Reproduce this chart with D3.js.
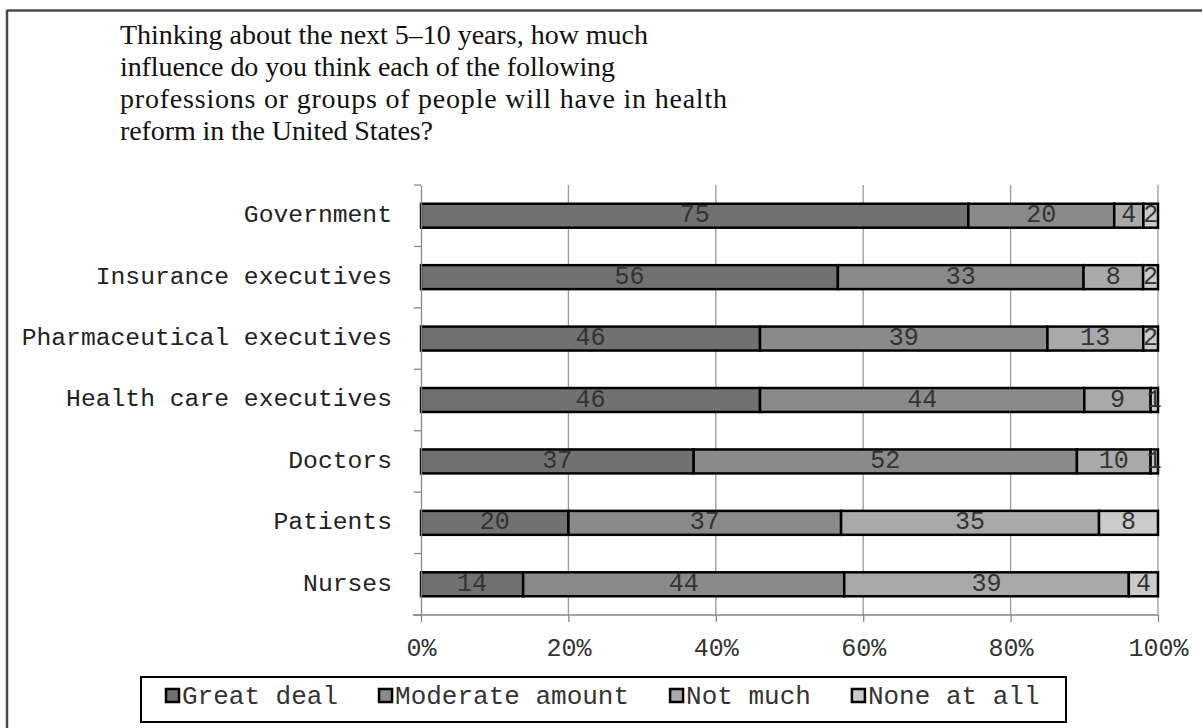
<!DOCTYPE html>
<html>
<head>
<meta charset="utf-8">
<script src="https://cdn.jsdelivr.net/npm/d3@7/dist/d3.min.js"></script>
<style>
  html, body { margin: 0; padding: 0; background: #fff; }
  svg { display: block; }
</style>
</head>
<body>
<svg id="chart" width="1202" height="728"></svg>
<script>
const titleLines = [
  "Thinking about the next 5\u201310 years, how much",
  "influence do you think each of the following",
  "professions or groups of people will have in health",
  "reform in the United States?"
];
const categories = ["Government", "Insurance executives", "Pharmaceutical executives",
  "Health care executives", "Doctors", "Patients", "Nurses"];
const seriesNames = ["Great deal", "Moderate amount", "Not much", "None at all"];
const greatDeal = [75, 56, 46, 46, 37, 20, 14];
const moderateAmount = [20, 33, 39, 44, 52, 37, 44];
const notMuch = [4, 8, 13, 9, 10, 35, 39];
const noneAtAll = [2, 2, 2, 1, 1, 8, 4];
const tickValues = [0, 0.2, 0.4, 0.6, 0.8, 1.0];
const tickLabels = ["0%", "20%", "40%", "60%", "80%", "100%"];
const colors = ["#717171", "#8a8a8a", "#a9a9a9", "#cbcbcb"];

// layout: rendered widths of the title lines in the original typeface
const titleLineWidths = [528, 495, 607, 313];

const seriesValues = [greatDeal, moderateAmount, notMuch, noneAtAll];
const svg = d3.select("#chart");
const mono = "'Liberation Mono', 'Courier New', monospace";
const textColor = "#333";

// frame
svg.append("line").attr("x1", 7).attr("x2", 1202).attr("y1", 10.5).attr("y2", 10.5)
  .attr("stroke", "#4a4a4a").attr("stroke-width", 2.5);
svg.append("line").attr("x1", 7).attr("x2", 7).attr("y1", 10).attr("y2", 728)
  .attr("stroke", "#4a4a4a").attr("stroke-width", 2.5);

// title
svg.append("g").selectAll("text").data(titleLines).join("text")
  .attr("x", 120).attr("y", (d, i) => 44 + i * 32)
  .attr("font-family", "'Liberation Serif', 'Times New Roman', serif")
  .attr("font-size", 28).attr("fill", "#111")
  .attr("textLength", (d, i) => titleLineWidths[i])
  .attr("lengthAdjust", "spacing")
  .text(d => d);

// scales
const x = d3.scaleLinear().domain([0, 1]).range([421, 1158]);
const y = d3.scaleBand().domain(categories).range([185, 615]).padding(0);

// gridlines
svg.append("g").selectAll("line").data(tickValues.slice(1)).join("line")
  .attr("x1", d => x(d)).attr("x2", d => x(d)).attr("y1", 185).attr("y2", 615)
  .attr("stroke", "#9a9a9a").attr("stroke-width", 1.3);

// stacked data (100% normalized)
const rows = categories.map((c, i) => {
  const vals = seriesValues.map(s => s[i]);
  const total = d3.sum(vals);
  let acc = 0;
  return vals.map((v, k) => {
    const seg = { cat: c, k, v, x0: acc / total, x1: (acc + v) / total };
    acc += v;
    return seg;
  });
});
const segs = rows.flat();
const barH = y.bandwidth() * 0.39;
const barOff = (y.bandwidth() - barH) / 2;

svg.append("g").selectAll("rect").data(segs).join("rect")
  .attr("x", d => x(d.x0)).attr("width", d => x(d.x1) - x(d.x0))
  .attr("y", d => y(d.cat) + barOff).attr("height", barH)
  .attr("fill", d => colors[d.k]).attr("stroke", "#000").attr("stroke-width", 2.5);

svg.append("g").selectAll("text").data(segs).join("text")
  .attr("x", d => (x(d.x0) + x(d.x1)) / 2)
  .attr("y", d => y(d.cat) + y.bandwidth() / 2 + 6.5)
  .attr("text-anchor", "middle")
  .attr("font-family", mono).attr("font-size", 25).attr("fill", textColor)
  .text(d => d.v);

// x axis
const xAxis = d3.axisBottom(x).tickValues(tickValues)
  .tickFormat((d, i) => tickLabels[i]).tickSize(7).tickSizeOuter(0);
const gx = svg.append("g").attr("transform", "translate(0,615)").call(xAxis);
gx.select(".domain").attr("stroke", "#888").attr("stroke-width", 1.3)
  .attr("d", "M413,0H1158");
gx.selectAll(".tick line").attr("stroke", "#888").attr("stroke-width", 1.3);
gx.selectAll(".tick text").attr("font-family", mono).attr("font-size", 25)
  .attr("fill", textColor).attr("dy", null).attr("y", 41);

// y axis
const yAxis = d3.axisLeft(y).tickSize(0).tickPadding(29);
const gy = svg.append("g").attr("transform", "translate(421,0)").call(yAxis);
gy.select(".domain").attr("stroke", "#888").attr("stroke-width", 1.3);
gy.selectAll(".tick text").attr("font-family", mono).attr("font-size", 24.7)
  .attr("fill", "#222").attr("dy", "0.26em");
// boundary ticks
const bounds = categories.map(c => y(c)).concat([615]);
svg.append("g").selectAll("line").data(bounds).join("line")
  .attr("x1", 414).attr("x2", 421).attr("y1", d => d).attr("y2", d => d)
  .attr("stroke", "#888").attr("stroke-width", 1.3);

// legend
const lg = svg.append("g");
lg.append("rect").attr("x", 141).attr("y", 677).attr("width", 925).attr("height", 45)
  .attr("fill", "#fff").attr("stroke", "#000").attr("stroke-width", 2);
let lx = 166;
seriesNames.forEach((name, k) => {
  lg.append("rect").attr("x", lx).attr("y", 689).attr("width", 13).attr("height", 13)
    .attr("fill", colors[k]).attr("stroke", "#000").attr("stroke-width", 2.5);
  const t = lg.append("text").attr("x", lx + 16).attr("y", 704)
    .attr("font-family", mono).attr("font-size", 26).attr("fill", textColor).text(name);
  lx += 16 + t.node().getComputedTextLength() + 41;
});
</script>
</body>
</html>
